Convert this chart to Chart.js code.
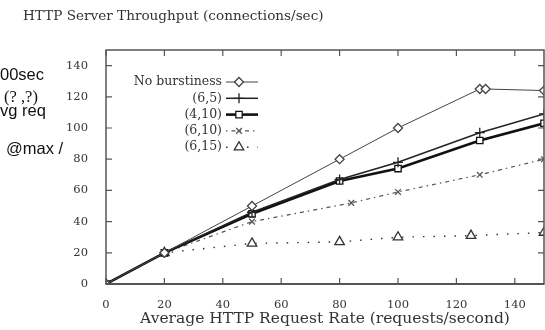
<!DOCTYPE html>
<html>
<head>
<meta charset="utf-8">
<script src="https://cdn.jsdelivr.net/npm/chart.js@4/dist/chart.umd.min.js"></script>
<style>
  body { margin: 0; background: #fff; }
  #wrap { position: relative; width: 545px; height: 330px; }
  .side { position: absolute; left: 0; font-family: "Liberation Sans", Arial, sans-serif; font-size: 16.5px; color: #111; white-space: nowrap; }
  .serif { font-family: "Liberation Serif", serif; }
</style>
</head>
<body>
<div id="wrap">
  <canvas id="chart" width="545" height="330"></canvas>
  <div class="side" style="top:65px; left:0px;">00sec</div>
  <div class="side serif" style="top:87px; left:4px;">(? ,?)</div>
  <div class="side" style="top:101px; left:0px;">vg req</div>
  <div class="side" style="top:139px; left:6px;">@max /</div>
</div>
<script>
// Data
const seriesNames = ["No burstiness", "(6,5)", "(4,10)", "(6,10)", "(6,15)"];

const noBurstX = [0, 20, 50, 80, 100, 128, 130, 150];
const noBurstY = [0, 20, 50, 80, 100, 125, 125, 124];

const b65X = [0, 20, 50, 80, 100, 128, 150];
const b65Y = [0, 20, 46, 67, 78, 97, 109];

const b410X = [0, 20, 50, 80, 100, 128, 150];
const b410Y = [0, 20, 45, 66, 74, 92, 103];

const b610X = [0, 20, 50, 84, 100, 128, 150];
const b610Y = [0, 20, 40, 52, 59, 70, 80];

const b615X = [0, 20, 50, 80, 100, 125, 150];
const b615Y = [0, 20, 26, 27, 30, 31, 33];

const xTicks = [0, 20, 40, 60, 80, 100, 120, 140];
const yTicks = [0, 20, 40, 60, 80, 100, 120, 140];

const SERIF = "'DejaVu Serif', 'Liberation Serif', serif";

function pts(xs, ys) {
  return xs.map((x, i) => ({ x: x, y: ys[i] }));
}

const styles = [
  { color: "#444", width: 1, dash: [], point: "rectRot", radius: 4.5 },
  { color: "#222", width: 1.5, dash: [], point: "cross", radius: 5 },
  { color: "#111", width: 2.6, dash: [], point: "rect", radius: 4.5 },
  { color: "#555", width: 1.2, dash: [1.5, 4, 4, 4], point: "crossRot", radius: 4 },
  { color: "#333", width: 1.4, dash: [1.5, 9], point: "triangle", radius: 5.5 },
];

const allData = [
  pts(noBurstX, noBurstY),
  pts(b65X, b65Y),
  pts(b410X, b410Y),
  pts(b610X, b610Y),
  pts(b615X, b615Y),
];

const datasets = allData.map((d, i) => ({
  label: seriesNames[i],
  data: d,
  borderColor: styles[i].color,
  borderWidth: styles[i].width,
  borderDash: styles[i].dash,
  pointStyle: styles[i].point,
  pointRadius: styles[i].radius,
  pointBorderWidth: 1.3,
  pointBorderColor: styles[i].color,
  pointBackgroundColor: "#fff",
  tension: 0,
  fill: false,
}));

// Frame with inward ticks on all four sides, title and right-aligned legend
const frame = {
  id: "frame",
  afterDatasetsDraw(chart) {
    const { ctx, chartArea: a, scales } = chart;
    ctx.save();
    ctx.strokeStyle = "#555";
    ctx.lineWidth = 1.5;
    ctx.strokeRect(a.left, a.top, a.right - a.left, a.bottom - a.top);
    ctx.lineWidth = 2;
    ctx.beginPath();
    ctx.moveTo(a.left, a.bottom);
    ctx.lineTo(a.right, a.bottom);
    ctx.stroke();

    ctx.lineWidth = 1.2;
    ctx.beginPath();
    xTicks.forEach((v) => {
      const px = scales.x.getPixelForValue(v);
      ctx.moveTo(px, a.bottom);
      ctx.lineTo(px, a.bottom - 6);
      ctx.moveTo(px, a.top);
      ctx.lineTo(px, a.top + 6);
    });
    yTicks.forEach((v) => {
      const py = scales.y.getPixelForValue(v);
      ctx.moveTo(a.left, py);
      ctx.lineTo(a.left + 6, py);
      ctx.moveTo(a.right, py);
      ctx.lineTo(a.right - 6, py);
    });
    ctx.stroke();

    // title
    ctx.fillStyle = "#333";
    ctx.font = "13.6px " + SERIF;
    ctx.textAlign = "left";
    ctx.textBaseline = "middle";
    ctx.fillText("HTTP Server Throughput (connections/sec)", 23, 16);

    // legend: text right-aligned, sample on the right
    const textRight = 222;
    ctx.font = "12.5px " + SERIF;
    ctx.textAlign = "right";
    seriesNames.forEach((name, i) => {
      const y = 82 + i * 16.3;
      const s = styles[i];
      ctx.fillStyle = "#333";
      ctx.fillText(name, textRight, y);
      ctx.strokeStyle = s.color;
      ctx.lineWidth = s.width;
      ctx.setLineDash(s.dash);
      ctx.beginPath();
      ctx.moveTo(textRight + 4, y);
      ctx.lineTo(textRight + 36, y);
      ctx.stroke();
      ctx.setLineDash([]);
      ctx.lineWidth = 1.3;
      ctx.fillStyle = "#fff";
      Chart.helpers.drawPoint(ctx, {
        pointStyle: s.point,
        radius: s.radius,
        borderWidth: 1.3,
        rotation: 0,
      }, textRight + 17, y);
    });
    ctx.restore();
  },
};

new Chart(document.getElementById("chart"), {
  type: "line",
  data: { datasets: datasets },
  options: {
    responsive: false,
    animation: false,
    layout: { autoPadding: false, padding: { top: 50, left: 0, right: 1, bottom: 0 } },
    plugins: {
      legend: { display: false },
      title: { display: false },
      tooltip: { enabled: false },
    },
    scales: {
      x: {
        type: "linear",
        min: 0,
        max: 150,
        afterBuildTicks: (s) => { s.ticks = xTicks.map((v) => ({ value: v })); },
        afterFit: (s) => { s.height = 46; },
        grid: { display: false },
        border: { display: false },
        ticks: {
          color: "#333",
          padding: 6,
          maxRotation: 0,
          font: { family: SERIF, size: 11.5 },
        },
        title: {
          display: true,
          text: "Average HTTP Request Rate (requests/second)",
          color: "#333",
          padding: { top: 0, bottom: 2 },
          font: { family: SERIF, size: 15.5 },
        },
      },
      y: {
        min: 0,
        max: 150,
        afterBuildTicks: (s) => { s.ticks = yTicks.map((v) => ({ value: v })); },
        afterFit: (s) => { s.width = 106; },
        grid: { display: false },
        border: { display: false },
        ticks: {
          color: "#333",
          padding: 10,
          font: { family: SERIF, size: 11.5 },
        },
      },
    },
  },
  plugins: [frame],
});
</script>
</body>
</html>
